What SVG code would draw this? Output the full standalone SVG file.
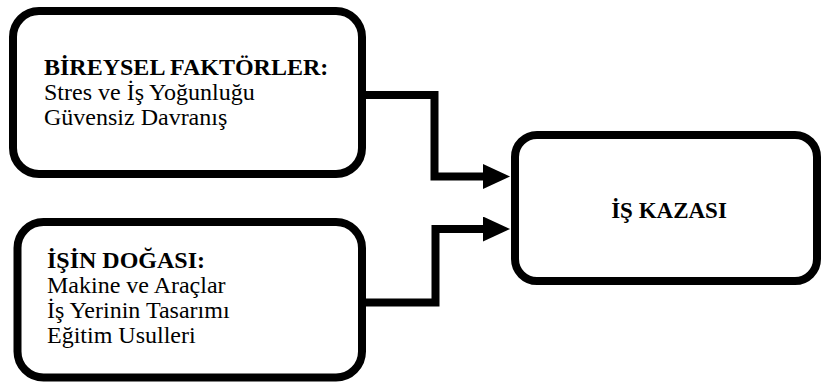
<svg xmlns="http://www.w3.org/2000/svg" width="822" height="383" viewBox="0 0 822 383">
  <style>
    .box { fill: #ffffff; stroke: #000000; stroke-width: 8; }
    .wire { fill: none; stroke: #000000; stroke-width: 8; stroke-linejoin: miter; }
    .txt { font-family: "Liberation Serif", "Times New Roman", serif; font-size: 24px; fill: #000000; }
    .head { font-weight: bold; }
    .center { font-size: 23px; font-weight: bold; text-anchor: middle; }
  </style>
  <defs>
    <marker id="arrow" markerUnits="userSpaceOnUse" markerWidth="27" markerHeight="25" viewBox="0 0 27 25" refX="1" refY="12.5" orient="auto">
      <path d="M0,0 L27,12.5 L0,25 Z" fill="#000000"/>
    </marker>
  </defs>
  <rect width="822" height="383" fill="#ffffff"/>

  <!-- connectors -->
  <g id="connectors">
    <polyline class="wire" points="362,95 434.5,95 434.5,176.5 484,176.5" marker-end="url(#arrow)"/>
    <polyline class="wire" points="362,302.5 435.5,302.5 435.5,229 484,229" marker-end="url(#arrow)"/>
  </g>

  <!-- individual factors -->
  <g id="bireysel">
    <rect class="box" x="13" y="11" width="349" height="163" rx="26" ry="26"/>
    <text class="txt head" x="44" y="75">BİREYSEL FAKTÖRLER:</text>
    <text class="txt" x="44" y="100">Stres ve İş Yoğunluğu</text>
    <text class="txt" x="44" y="124.5">Güvensiz Davranış</text>
  </g>

  <!-- nature of the work -->
  <g id="isin-dogasi">
    <rect class="box" x="17.5" y="222" width="344.5" height="155.5" rx="26" ry="26"/>
    <text class="txt head" x="47" y="268">İŞİN DOĞASI:</text>
    <text class="txt" x="47" y="293">Makine ve Araçlar</text>
    <text class="txt" x="47" y="318">İş Yerinin Tasarımı</text>
    <text class="txt" x="47" y="343">Eğitim Usulleri</text>
  </g>

  <!-- outcome -->
  <g id="is-kazasi">
    <rect class="box" x="515" y="135" width="302" height="146" rx="22" ry="22"/>
    <text class="txt center" x="669" y="218">İŞ KAZASI</text>
  </g>
</svg>
